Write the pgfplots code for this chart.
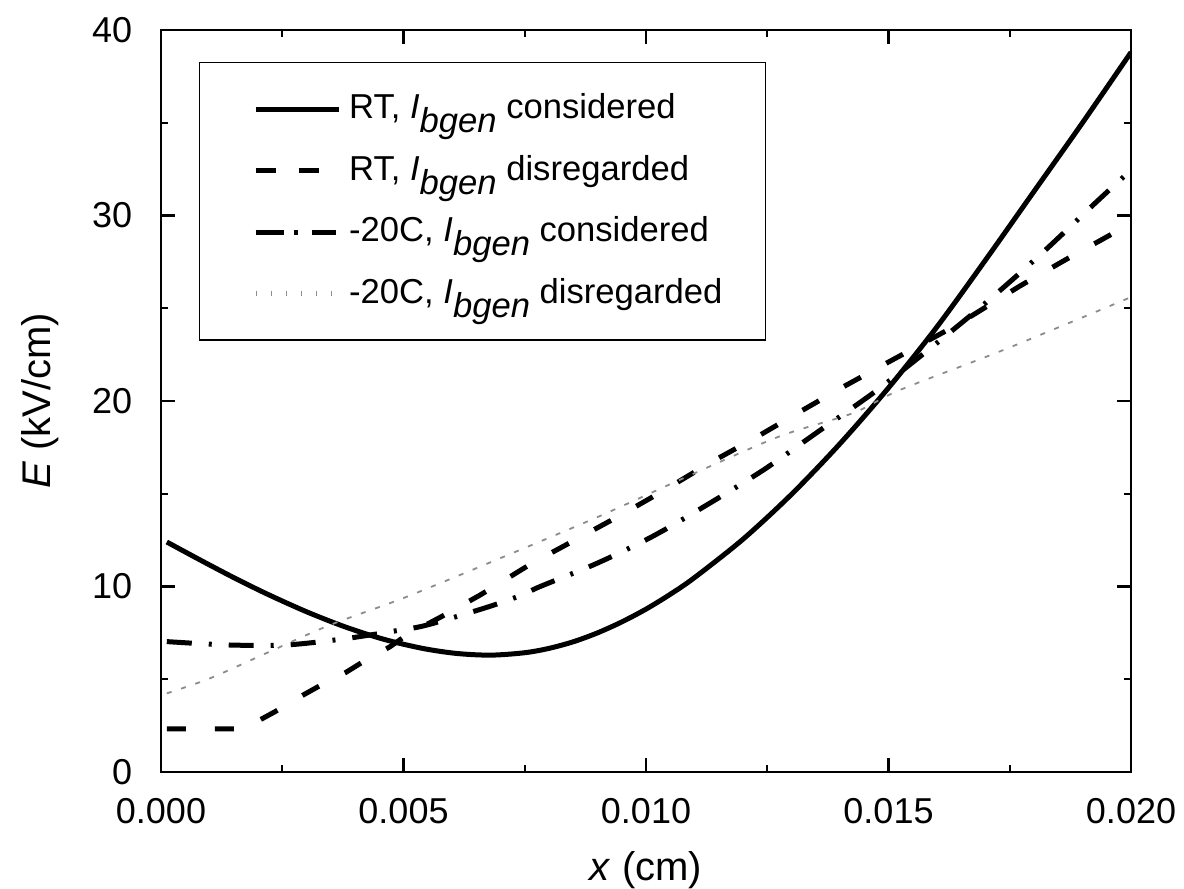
\documentclass[border=0pt]{standalone}
\usepackage{fontspec}
\setmainfont{Liberation Sans}
\usepackage{pgfplots}
\pgfplotsset{compat=1.18}
\newcommand{\Ib}{\textit{I}\raisebox{-0.4em}{\textit{bgen}}}
\definecolor{dotgray}{rgb}{0.55,0.55,0.55}
\begin{document}
\begin{tikzpicture}
\begin{axis}[
  scale only axis, width=242.5pt, height=185.5pt,
  xmin=0, xmax=0.02, ymin=0, ymax=40,
  xtick={0,0.005,0.01,0.015,0.02},
  ytick={0,10,20,30,40},
  minor x tick num=1, minor y tick num=1,
  scaled x ticks=false,
  tick align=inside,
  major tick length=3.5pt, minor tick length=1.75pt,
  every tick/.style={black, line width=0.55pt},
  axis line style={line width=0.55pt},
  tick label style={font=\fontsize{9}{10}\selectfont, /pgf/number format/assume math mode=true},
  xticklabel style={anchor=base, yshift=-12.75pt, /pgf/number format/fixed, /pgf/number format/fixed zerofill, /pgf/number format/precision=3},
  yticklabel style={anchor=east, inner sep=0pt, xshift=-7pt},
  xlabel={\textit{x} (cm)}, ylabel={\textit{E} (kV/cm)},
  label style={font=\fontsize{11}{13}\selectfont},
  every axis x label/.style={at={(axis description cs:0.5,-0.1456)}, anchor=base},
  every axis y label/.style={at={(axis description cs:-0.1144,0.5)}, rotate=90, anchor=base},
  legend cell align=left,
  legend style={at={(axis description cs:0.0392,0.9569)}, anchor=north west, draw=black, line width=0.35pt,
    inner xsep=8.75pt, inner ysep=5.75pt, row sep=3.6pt,
    font=\fontsize{8.65}{10}\selectfont, cells={anchor=west, inner ysep=0pt}},
  clip=true,
]
\addplot[forget plot, black, line width=1.25pt, smooth] coordinates {
(0.00012,12.4) (0.0008,11.44) (0.0015,10.48) (0.0022,9.58) (0.003,8.64) (0.0038,7.82)
(0.0046,7.15) (0.0054,6.66) (0.0061,6.39) (0.0068,6.30) (0.0075,6.43) (0.008,6.665)
(0.0085,7.02) (0.009,7.50) (0.0095,8.09) (0.010,8.78) (0.0105,9.58) (0.011,10.48)
(0.012,12.55) (0.013,14.97) (0.014,17.70) (0.015,20.71) (0.016,24.0) (0.017,27.6)
(0.018,31.3) (0.019,35.0) (0.020,38.8)};
\addplot[forget plot, black, line width=1.25pt, dash pattern=on 4.75pt off 7.25pt] coordinates {
(0.00012,2.32) (0.0015,2.32) (0.0017,2.38) (0.00197,2.71) (0.00235,3.25) (0.00287,4.06)
(0.00324,4.6) (0.0038,5.35) (0.00417,5.95) (0.00472,6.75) (0.00507,7.39) (0.0058,8.4)
(0.00658,9.54) (0.00692,10.08) (0.00764,11.24) (0.00856,12.54) (0.00948,13.85) (0.01041,15.24)
(0.0113,16.64) (0.01223,17.98) (0.01312,19.34) (0.01405,20.74) (0.015,22.1) (0.01641,24.1)
(0.01771,26.2) (0.01864,27.6) (0.01957,28.95) (0.0200,29.6)};
\addplot[forget plot, black, line width=1.25pt, dash pattern=on 6.25pt off 4.25pt on 0.75pt off 4.25pt, smooth] coordinates {
(0.00012,7.03) (0.00136,6.85) (0.00259,6.85) (0.00383,7.2) (0.00493,7.65) (0.00548,7.92)
(0.00665,8.82) (0.0074,9.5) (0.00781,9.99) (0.00898,11.24) (0.01012,12.68) (0.01125,14.39)
(0.01242,16.28) (0.01355,18.35) (0.01472,20.5) (0.01586,22.84) (0.01703,25.35) (0.01816,27.96)
(0.01929,30.74) (0.0200,32.45)};
\addplot[forget plot, dotgray, line width=0.45pt, dash pattern=on 1.25pt off 2.5pt, smooth] coordinates {
(0.00012,4.24) (0.00101,5.05) (0.00225,6.5) (0.00348,7.92) (0.00507,9.45) (0.0072,11.75)
(0.00905,13.8) (0.01091,16.0) (0.01276,18.1) (0.01427,19.35) (0.01524,20.6) (0.01737,22.75)
(0.0200,25.6)};
\addlegendimage{legend image code/.code={\path[draw=none] (-5.25pt,0pt) -- (20.75pt,0pt); \draw[black, solid, line width=1.25pt] (0pt,0pt) -- (20.75pt,0pt);}}
\addlegendentry{RT, \Ib{} considered}
\addlegendimage{legend image code/.code={\path[draw=none] (-5.25pt,0pt) -- (20.75pt,0pt); \draw[black, solid, line width=1.25pt] (0pt,0pt) -- (5pt,0pt) (10.75pt,0pt) -- (15.75pt,0pt);}}
\addlegendentry{RT, \Ib{} disregarded}
\addlegendimage{legend image code/.code={\path[draw=none] (-5.25pt,0pt) -- (20.75pt,0pt); \draw[black, solid, line width=1.25pt] (0pt,0pt) -- (7pt,0pt) (9.5pt,0pt) -- (10.5pt,0pt) (14pt,0pt) -- (20pt,0pt);}}
\addlegendentry{-20C, \Ib{} considered}
\addlegendimage{legend image code/.code={\path[draw=none] (-5.25pt,0pt) -- (20.75pt,0pt); \foreach \t in {0.25,4,7.75,11.5,15.25,19} {\draw[dotgray, solid, line width=0.3pt] (\t pt,-0.6pt) -- (\t pt,0.6pt);}}}
\addlegendentry{-20C, \Ib{} disregarded}
\end{axis}
\pgfresetboundingbox
\path[use as bounding box] ([xshift=-40.25pt,yshift=-29pt]current axis.south west) rectangle ([xshift=13.25pt,yshift=7.5pt]current axis.north east);
\end{tikzpicture}
\end{document}
